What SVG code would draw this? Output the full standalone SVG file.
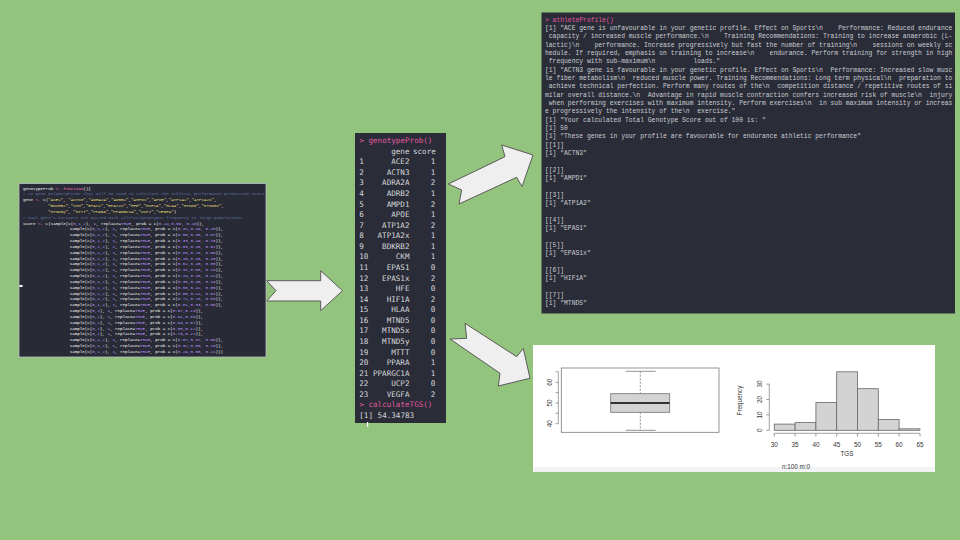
<svg xmlns="http://www.w3.org/2000/svg" width="960" height="540" viewBox="0 0 960 540">
<style>
.code{font-family:"Liberation Mono","DejaVu Sans Mono",monospace;font-size:4.2px;fill:#f8f8f2}
.code text,.prof text{white-space:pre}
.cm{fill:#6272a4}
.kw{fill:#ff79c6}
.st{fill:#e6db74}
.nu{fill:#bd93f9}
.tbl{font-family:"DejaVu Sans Mono","Liberation Mono",monospace;font-size:7.6px;fill:#d6d8dc}
.pk{fill:#e0599f}
.prof{font-family:"Liberation Mono","DejaVu Sans Mono",monospace;font-size:6.35px;fill:#c9ccd1}
.ax{font-family:"Liberation Sans","Noto Sans",sans-serif;font-size:6.3px;fill:#333}
.arrow{fill:#efefef;stroke:#5a5a5a;stroke-width:1;stroke-linejoin:miter}
</style>
<rect width="960" height="540" fill="#93c47d"/>

<g id="connectors">
<polygon class="arrow" points="266.7,280.7 320.7,280.7 320.7,270.7 342.5,290.7 320.7,310.7 320.7,301 266.7,301 276,290.7"/>
<polygon class="arrow" points="448.3,184 505,156.7 501.7,145 533,155 522,186.7 516.7,177.3 459,204 461.7,190"/>
<polygon class="arrow" points="465,323.3 516.7,356.7 523.3,348.3 530,378.3 498.3,386 500,373.3 450,339 466.7,338.3"/>
</g>

<g id="code-panel">
<rect x="19" y="183.5" width="247" height="173.5" fill="#282a36" stroke="#b9bfc6" stroke-width="0.8"/>
<rect x="19.5" y="285" width="3" height="2" fill="#ffffff"/>
<g class="code">
<text xml:space="preserve" x="23" y="189.5">genotypeProb <tspan class="kw">&lt;-</tspan> <tspan class="kw">function</tspan>(){</text>
<text xml:space="preserve" x="23" y="195.3" class="cm"># 23 gene polymorphisms that will be used to calculate the athletic performance prediction score</text>
<text xml:space="preserve" x="23" y="201.2">gene <tspan class="kw">&lt;-</tspan> c(<tspan class="st">"ACE2"</tspan>, <tspan class="st">"ACTN3"</tspan>,<tspan class="st">"ADRA2A"</tspan>,<tspan class="st">"ADRB2"</tspan>,<tspan class="st">"AMPD1"</tspan>,<tspan class="st">"APOE"</tspan>,<tspan class="st">"ATP1A2"</tspan>,<tspan class="st">"ATP1A2x"</tspan>,</text>
<text xml:space="preserve" x="48" y="207"><tspan class="st">"BDKRB2"</tspan>,<tspan class="st">"CKM"</tspan>,<tspan class="st">"EPAS1"</tspan>,<tspan class="st">"EPAS1x"</tspan>,<tspan class="st">"HFE"</tspan>,<tspan class="st">"HIF1A"</tspan>,<tspan class="st">"HLAA"</tspan>,<tspan class="st">"MTND5"</tspan>,<tspan class="st">"MTND5x"</tspan>,</text>
<text xml:space="preserve" x="48" y="212.8"><tspan class="st">"MTND5y"</tspan>, <tspan class="st">"MTTT"</tspan>,<tspan class="st">"PPARA"</tspan>,<tspan class="st">"PPARGC1A"</tspan>,<tspan class="st">"UCP2"</tspan>,<tspan class="st">"VEGFA"</tspan>)</text>
<text xml:space="preserve" x="23" y="218.7" class="cm"># each gene's variants are paired with allelic/genotypic frequency in large populations.</text>
<text xml:space="preserve" x="23" y="224.5">score <tspan class="kw">&lt;-</tspan> c(sample(c(<tspan class="nu">0,1,2</tspan>), <tspan class="nu">1</tspan>, replace=<tspan class="nu">TRUE</tspan>, prob = c(<tspan class="nu">0.24,0.56, 0.20</tspan>)),</text>
<text xml:space="preserve" x="69.7" y="230.3">sample(c(<tspan class="nu">0,1,2</tspan>), <tspan class="nu">1</tspan>, replace=<tspan class="nu">TRUE</tspan>, prob = c(<tspan class="nu">0.31,0.49, 0.20</tspan>)),</text>
<text xml:space="preserve" x="69.7" y="236.2">sample(c(<tspan class="nu">0,1,2</tspan>), <tspan class="nu">1</tspan>, replace=<tspan class="nu">TRUE</tspan>, prob = c(<tspan class="nu">0.55,0.38, 0.07</tspan>)),</text>
<text xml:space="preserve" x="69.7" y="242">sample(c(<tspan class="nu">0,1,2</tspan>), <tspan class="nu">1</tspan>, replace=<tspan class="nu">TRUE</tspan>, prob = c(<tspan class="nu">0.33,0.49, 0.18</tspan>)),</text>
<text xml:space="preserve" x="69.7" y="247.8">sample(c(<tspan class="nu">0,1,2</tspan>), <tspan class="nu">1</tspan>, replace=<tspan class="nu">TRUE</tspan>, prob = c(<tspan class="nu">0.80,0.18, 0.02</tspan>)),</text>
<text xml:space="preserve" x="69.7" y="253.7">sample(c(<tspan class="nu">0,1,2</tspan>), <tspan class="nu">1</tspan>, replace=<tspan class="nu">TRUE</tspan>, prob = c(<tspan class="nu">0.66,0.28, 0.06</tspan>)),</text>
<text xml:space="preserve" x="69.7" y="259.5">sample(c(<tspan class="nu">0,1,2</tspan>), <tspan class="nu">1</tspan>, replace=<tspan class="nu">TRUE</tspan>, prob = c(<tspan class="nu">0.40,0.45, 0.15</tspan>)),</text>
<text xml:space="preserve" x="69.7" y="265.3">sample(c(<tspan class="nu">0,1,2</tspan>), <tspan class="nu">1</tspan>, replace=<tspan class="nu">TRUE</tspan>, prob = c(<tspan class="nu">0.52,0.40, 0.08</tspan>)),</text>
<text xml:space="preserve" x="69.7" y="271.1">sample(c(<tspan class="nu">0,1,2</tspan>), <tspan class="nu">1</tspan>, replace=<tspan class="nu">TRUE</tspan>, prob = c(<tspan class="nu">0.31,0.50, 0.19</tspan>)),</text>
<text xml:space="preserve" x="69.7" y="277">sample(c(<tspan class="nu">0,1,2</tspan>), <tspan class="nu">1</tspan>, replace=<tspan class="nu">TRUE</tspan>, prob = c(<tspan class="nu">0.44,0.45, 0.11</tspan>)),</text>
<text xml:space="preserve" x="69.7" y="282.8">sample(c(<tspan class="nu">0,1,2</tspan>), <tspan class="nu">1</tspan>, replace=<tspan class="nu">TRUE</tspan>, prob = c(<tspan class="nu">0.36,0.48, 0.16</tspan>)),</text>
<text xml:space="preserve" x="69.7" y="288.6">sample(c(<tspan class="nu">0,1,2</tspan>), <tspan class="nu">1</tspan>, replace=<tspan class="nu">TRUE</tspan>, prob = c(<tspan class="nu">0.50,0.42, 0.08</tspan>)),</text>
<text xml:space="preserve" x="69.7" y="294.5">sample(c(<tspan class="nu">0,1,2</tspan>), <tspan class="nu">1</tspan>, replace=<tspan class="nu">TRUE</tspan>, prob = c(<tspan class="nu">0.85,0.14, 0.01</tspan>)),</text>
<text xml:space="preserve" x="69.7" y="300.3">sample(c(<tspan class="nu">0,1,2</tspan>), <tspan class="nu">1</tspan>, replace=<tspan class="nu">TRUE</tspan>, prob = c(<tspan class="nu">0.72,0.25, 0.03</tspan>)),</text>
<text xml:space="preserve" x="69.7" y="306.1">sample(c(<tspan class="nu">0,1,2</tspan>), <tspan class="nu">1</tspan>, replace=<tspan class="nu">TRUE</tspan>, prob = c(<tspan class="nu">0.61,0.33, 0.06</tspan>)),</text>
<text xml:space="preserve" x="69.7" y="312">sample(c(<tspan class="nu">0,2</tspan>), <tspan class="nu">1</tspan>, replace=<tspan class="nu">TRUE</tspan>, prob = c(<tspan class="nu">0.87,0.13</tspan>)),</text>
<text xml:space="preserve" x="69.7" y="317.8">sample(c(<tspan class="nu">0,2</tspan>), <tspan class="nu">1</tspan>, replace=<tspan class="nu">TRUE</tspan>, prob = c(<tspan class="nu">0.91,0.09</tspan>)),</text>
<text xml:space="preserve" x="69.7" y="323.6">sample(c(<tspan class="nu">0,2</tspan>), <tspan class="nu">1</tspan>, replace=<tspan class="nu">TRUE</tspan>, prob = c(<tspan class="nu">0.93,0.07</tspan>)),</text>
<text xml:space="preserve" x="69.7" y="329.5">sample(c(<tspan class="nu">0,2</tspan>), <tspan class="nu">1</tspan>, replace=<tspan class="nu">TRUE</tspan>, prob = c(<tspan class="nu">0.88,0.12</tspan>)),</text>
<text xml:space="preserve" x="69.7" y="335.3">sample(c(<tspan class="nu">0,2</tspan>), <tspan class="nu">1</tspan>, replace=<tspan class="nu">TRUE</tspan>, prob = c(<tspan class="nu">0.79,0.21</tspan>)),</text>
<text xml:space="preserve" x="69.7" y="341.1">sample(c(<tspan class="nu">0,1,2</tspan>), <tspan class="nu">1</tspan>, replace=<tspan class="nu">TRUE</tspan>, prob = c(<tspan class="nu">0.57,0.37, 0.06</tspan>)),</text>
<text xml:space="preserve" x="69.7" y="346.9">sample(c(<tspan class="nu">0,1,2</tspan>), <tspan class="nu">1</tspan>, replace=<tspan class="nu">TRUE</tspan>, prob = c(<tspan class="nu">0.32,0.50, 0.18</tspan>)),</text>
<text xml:space="preserve" x="69.7" y="352.8">sample(c(<tspan class="nu">0,1,2</tspan>), <tspan class="nu">1</tspan>, replace=<tspan class="nu">TRUE</tspan>, prob = c(<tspan class="nu">0.29,0.50, 0.21</tspan>)))</text>
</g>
</g>

<g id="genotype-table">
<rect x="355" y="133" width="91" height="290" fill="#2a2c38"/>
<rect x="367" y="422" width="1.2" height="5" fill="#ffffff"/>
<g class="tbl">
<text x="359.3" y="143.2" class="pk">&gt; genotypeProb()</text>
<text x="409.5" y="153.7" text-anchor="end">gene</text>
<text x="435.8" y="153.7" text-anchor="end">score</text>
</g>
<g class="tbl">
<text x="359.3" y="164.3">1</text><text x="409.5" y="164.3" text-anchor="end">ACE2</text><text x="433" y="164.3" text-anchor="middle">1</text>
<text x="359.3" y="174.9">2</text><text x="409.5" y="174.9" text-anchor="end">ACTN3</text><text x="433" y="174.9" text-anchor="middle">1</text>
<text x="359.3" y="185.4">3</text><text x="409.5" y="185.4" text-anchor="end">ADRA2A</text><text x="433" y="185.4" text-anchor="middle">2</text>
<text x="359.3" y="196">4</text><text x="409.5" y="196" text-anchor="end">ADRB2</text><text x="433" y="196" text-anchor="middle">1</text>
<text x="359.3" y="206.6">5</text><text x="409.5" y="206.6" text-anchor="end">AMPD1</text><text x="433" y="206.6" text-anchor="middle">2</text>
<text x="359.3" y="217.2">6</text><text x="409.5" y="217.2" text-anchor="end">APOE</text><text x="433" y="217.2" text-anchor="middle">1</text>
<text x="359.3" y="227.7">7</text><text x="409.5" y="227.7" text-anchor="end">ATP1A2</text><text x="433" y="227.7" text-anchor="middle">2</text>
<text x="359.3" y="238.3">8</text><text x="409.5" y="238.3" text-anchor="end">ATP1A2x</text><text x="433" y="238.3" text-anchor="middle">1</text>
<text x="359.3" y="248.9">9</text><text x="409.5" y="248.9" text-anchor="end">BDKRB2</text><text x="433" y="248.9" text-anchor="middle">1</text>
<text x="359.3" y="259.4">10</text><text x="409.5" y="259.4" text-anchor="end">CKM</text><text x="433" y="259.4" text-anchor="middle">1</text>
<text x="359.3" y="270">11</text><text x="409.5" y="270" text-anchor="end">EPAS1</text><text x="433" y="270" text-anchor="middle">0</text>
<text x="359.3" y="280.6">12</text><text x="409.5" y="280.6" text-anchor="end">EPAS1x</text><text x="433" y="280.6" text-anchor="middle">2</text>
<text x="359.3" y="291.1">13</text><text x="409.5" y="291.1" text-anchor="end">HFE</text><text x="433" y="291.1" text-anchor="middle">0</text>
<text x="359.3" y="301.7">14</text><text x="409.5" y="301.7" text-anchor="end">HIF1A</text><text x="433" y="301.7" text-anchor="middle">2</text>
<text x="359.3" y="312.3">15</text><text x="409.5" y="312.3" text-anchor="end">HLAA</text><text x="433" y="312.3" text-anchor="middle">0</text>
<text x="359.3" y="322.8">16</text><text x="409.5" y="322.8" text-anchor="end">MTND5</text><text x="433" y="322.8" text-anchor="middle">0</text>
<text x="359.3" y="333.4">17</text><text x="409.5" y="333.4" text-anchor="end">MTND5x</text><text x="433" y="333.4" text-anchor="middle">0</text>
<text x="359.3" y="344">18</text><text x="409.5" y="344" text-anchor="end">MTND5y</text><text x="433" y="344" text-anchor="middle">0</text>
<text x="359.3" y="354.5">19</text><text x="409.5" y="354.5" text-anchor="end">MTTT</text><text x="433" y="354.5" text-anchor="middle">0</text>
<text x="359.3" y="365.1">20</text><text x="409.5" y="365.1" text-anchor="end">PPARA</text><text x="433" y="365.1" text-anchor="middle">1</text>
<text x="359.3" y="375.7">21</text><text x="409.5" y="375.7" text-anchor="end">PPARGC1A</text><text x="433" y="375.7" text-anchor="middle">1</text>
<text x="359.3" y="386.2">22</text><text x="409.5" y="386.2" text-anchor="end">UCP2</text><text x="433" y="386.2" text-anchor="middle">0</text>
<text x="359.3" y="396.8">23</text><text x="409.5" y="396.8" text-anchor="end">VEGFA</text><text x="433" y="396.8" text-anchor="middle">2</text>
<text x="359.3" y="407.4" class="pk">&gt; calculateTGS()</text>
<text x="359.3" y="418">[1] 54.34783</text>
</g>
</g>

<g id="athlete-profile">
<rect x="541.5" y="12.5" width="413.5" height="301" fill="#2a2c38"/>
<g class="prof">
<text xml:space="preserve" x="545" y="21.6" class="pk">&gt; athleteProfile()</text>
<text xml:space="preserve" x="545" y="29.9">[1] "ACE gene is unfavourable in your genetic profile. Effect on Sports\n    Performance: Reduced endurance</text>
<text xml:space="preserve" x="545" y="38.3"> capacity / increased muscle performance.\n    Training Recommendations: Training to increase anaerobic (L-</text>
<text xml:space="preserve" x="545" y="46.6">lactic)\n    performance. Increase progressively but fast the number of training\n    sessions on weekly sc</text>
<text xml:space="preserve" x="545" y="54.9">hedule. If required, emphasis on training to increase\n    endurance. Perform training for strength in high</text>
<text xml:space="preserve" x="545" y="63.3"> frequency with sub-maximum\n          loads."</text>
<text xml:space="preserve" x="545" y="71.6">[1] "ACTN3 gene is favourable in your genetic profile. Effect on Sports\n  Performance: Increased slow musc</text>
<text xml:space="preserve" x="545" y="79.9">le fiber metabolism\n  reduced muscle power. Training Recommendations: Long term physical\n  preparation to</text>
<text xml:space="preserve" x="545" y="88.2"> achieve technical perfection. Perform many routes of the\n  competition distance / repetitive routes of si</text>
<text xml:space="preserve" x="545" y="96.6">milar overall distance.\n  Advantage in rapid muscle contraction confers increased risk of muscle\n  injury</text>
<text xml:space="preserve" x="545" y="104.9"> when performing exercises with maximum intensity. Perform exercises\n  in sub maximum intensity or increas</text>
<text xml:space="preserve" x="545" y="113.2">e progressively the intensity of the\n  exercise."</text>
<text xml:space="preserve" x="545" y="121.6">[1] "Your calculated Total Genotype Score out of 100 is: "</text>
<text xml:space="preserve" x="545" y="129.9">[1] 50</text>
<text xml:space="preserve" x="545" y="138.2">[1] "These genes in your profile are favourable for endurance athletic performance"</text>
<text xml:space="preserve" x="545" y="146.6">[[1]]</text>
<text xml:space="preserve" x="545" y="154.9">[1] "ACTN3"</text>
<text xml:space="preserve" x="545" y="171.5">[[2]]</text>
<text xml:space="preserve" x="545" y="179.9">[1] "AMPD1"</text>
<text xml:space="preserve" x="545" y="196.5">[[3]]</text>
<text xml:space="preserve" x="545" y="204.9">[1] "ATP1A2"</text>
<text xml:space="preserve" x="545" y="221.5">[[4]]</text>
<text xml:space="preserve" x="545" y="229.8">[1] "EPAS1"</text>
<text xml:space="preserve" x="545" y="246.5">[[5]]</text>
<text xml:space="preserve" x="545" y="254.8">[1] "EPAS1x"</text>
<text xml:space="preserve" x="545" y="271.5">[[6]]</text>
<text xml:space="preserve" x="545" y="279.8">[1] "HIF1A"</text>
<text xml:space="preserve" x="545" y="296.5">[[7]]</text>
<text xml:space="preserve" x="545" y="304.8">[1] "MTND5"</text>
</g>
</g>

<g id="tgs-charts">
<rect x="533" y="345" width="402" height="127" fill="#ffffff"/>
<rect x="533" y="467" width="402" height="5" fill="#f1f3f5"/>
<g id="boxplot">
<rect x="561.3" y="368" width="157.7" height="64.3" fill="none" stroke="#7a7a7a" stroke-width="0.8"/>
<line x1="558.3" y1="371.7" x2="558.3" y2="423.7" stroke="#7a7a7a" stroke-width="0.7"/>
<g stroke="#7a7a7a" stroke-width="0.7">
<line x1="555.5" y1="371.7" x2="558.3" y2="371.7"/><line x1="555.5" y1="382.3" x2="558.3" y2="382.3"/><line x1="555.5" y1="392.6" x2="558.3" y2="392.6"/><line x1="555.5" y1="403" x2="558.3" y2="403"/><line x1="555.5" y1="413.3" x2="558.3" y2="413.3"/><line x1="555.5" y1="423.7" x2="558.3" y2="423.7"/>
</g>
<text class="ax" transform="translate(551.8,423.7) rotate(-90)" text-anchor="middle">40</text>
<text class="ax" transform="translate(551.8,403) rotate(-90)" text-anchor="middle">50</text>
<text class="ax" transform="translate(551.8,382.3) rotate(-90)" text-anchor="middle">60</text>
<line x1="640.3" y1="371.3" x2="640.3" y2="393.7" stroke="#777" stroke-width="0.8" stroke-dasharray="2,1.5"/>
<line x1="640.3" y1="412.3" x2="640.3" y2="430.3" stroke="#777" stroke-width="0.8" stroke-dasharray="2,1.5"/>
<line x1="625.7" y1="371.3" x2="655.7" y2="371.3" stroke="#777" stroke-width="0.8"/>
<line x1="625.7" y1="430.3" x2="655.7" y2="430.3" stroke="#777" stroke-width="0.8"/>
<rect x="610.7" y="393.7" width="59" height="18.6" fill="#d3d3d3" stroke="#707070" stroke-width="0.8"/>
<line x1="610.7" y1="403" x2="669.7" y2="403" stroke="#333" stroke-width="2.2"/>
</g>
<g id="histogram">
<text class="ax" transform="translate(741.8,400.5) rotate(-90)" text-anchor="middle">Frequency</text>
<line x1="769.3" y1="430.3" x2="769.3" y2="384.1" stroke="#777" stroke-width="0.7"/>
<g stroke="#777" stroke-width="0.7">
<line x1="766.3" y1="430.3" x2="769.3" y2="430.3"/><line x1="766.3" y1="414.9" x2="769.3" y2="414.9"/><line x1="766.3" y1="399.5" x2="769.3" y2="399.5"/><line x1="766.3" y1="384.1" x2="769.3" y2="384.1"/>
</g>
<text class="ax" transform="translate(762.3,430.3) rotate(-90)" text-anchor="middle">0</text>
<text class="ax" transform="translate(762.3,414.9) rotate(-90)" text-anchor="middle">10</text>
<text class="ax" transform="translate(762.3,399.5) rotate(-90)" text-anchor="middle">20</text>
<text class="ax" transform="translate(762.3,384.1) rotate(-90)" text-anchor="middle">30</text>
<g fill="#d3d3d3" stroke="#666" stroke-width="0.8">
<rect x="774.3" y="424.1" width="20.8" height="6.2"/>
<rect x="795.1" y="422.6" width="20.8" height="7.7"/>
<rect x="815.9" y="402.6" width="20.8" height="27.7"/>
<rect x="836.7" y="371.8" width="20.8" height="58.5"/>
<rect x="857.5" y="388.7" width="20.8" height="41.6"/>
<rect x="878.3" y="419.5" width="20.8" height="10.8"/>
<rect x="899.1" y="428.8" width="20.8" height="1.5"/>
</g>
<line x1="774.3" y1="433.3" x2="920" y2="433.3" stroke="#777" stroke-width="0.7"/>
<g stroke="#777" stroke-width="0.7">
<line x1="774.3" y1="433.3" x2="774.3" y2="436.5"/><line x1="795.1" y1="433.3" x2="795.1" y2="436.5"/><line x1="815.9" y1="433.3" x2="815.9" y2="436.5"/><line x1="836.7" y1="433.3" x2="836.7" y2="436.5"/><line x1="857.5" y1="433.3" x2="857.5" y2="436.5"/><line x1="878.3" y1="433.3" x2="878.3" y2="436.5"/><line x1="899.1" y1="433.3" x2="899.1" y2="436.5"/><line x1="920" y1="433.3" x2="920" y2="436.5"/>
</g>
<g class="ax" text-anchor="middle">
<text x="774.3" y="446.8">30</text><text x="795.1" y="446.8">35</text><text x="815.9" y="446.8">40</text><text x="836.7" y="446.8">45</text><text x="857.5" y="446.8">50</text><text x="878.3" y="446.8">55</text><text x="899.1" y="446.8">60</text><text x="920" y="446.8">65</text>
<text x="847" y="456">TGS</text>
</g>
<text class="ax" x="782" y="469">n:100 m:0</text>
</g>
</g>
</svg>
